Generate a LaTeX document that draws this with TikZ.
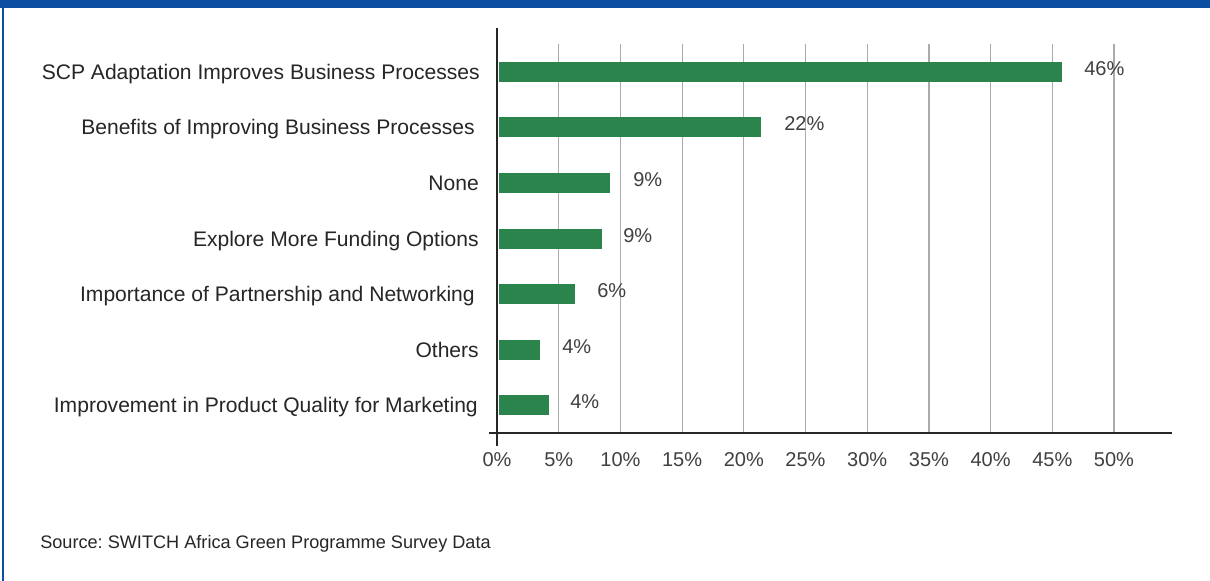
\documentclass[tikz,border=0pt]{standalone}
\usepackage{fontspec}
\setmainfont{Liberation Sans}
\usepackage{xcolor}
\definecolor{bandblue}{HTML}{0B4EA2}
\definecolor{bargreen}{HTML}{2B844C}
\definecolor{gridgrey}{HTML}{ABABAB}
\definecolor{labelgrey}{HTML}{262626}
\definecolor{valgrey}{HTML}{404040}
\frenchspacing

\begin{document}
\begin{tikzpicture}[x=0.75pt,y=-0.75pt,
    catlabel/.style = {anchor=base east, inner sep=0pt, text=labelgrey,
      font=\fontsize{15.8}{18}\selectfont},
    vallabel/.style = {anchor=base west, inner sep=0pt, text=valgrey,
      font=\fontsize{15}{18}\selectfont},
    ticklabel/.style = {anchor=base, inner sep=0pt, text=valgrey,
      font=\fontsize{15}{18}\selectfont},
    gridline/.style = {draw=gridgrey, line width=0.9pt},
    axisline/.style = {draw=labelgrey, line width=1.8pt},
    barbox/.style = {fill=bargreen}]
  \useasboundingbox (0,0) rectangle (1210,581);
  \fill[white] (0,0) rectangle (1210,581);

  % frame
  \fill[bandblue] (0,0) rectangle (1210,8);
  \draw[bandblue, line width=1.2pt] (3,8) -- (3,581);

  % grid and tick labels
  \foreach \i in {1,...,10}
    \draw[gridline] ({497+61.7*\i},44) -- ({497+61.7*\i},433);
  \foreach \i in {0,...,10}{
    \pgfmathtruncatemacro{\pc}{5*\i}
    \node[ticklabel] (tick\i) at ({497+61.7*\i},466) {\pc\%};
  }

  % bars
  \foreach \y/\e/\lx/\lab/\vx/\val [count=\n] in {
      72/1062/480/SCP Adaptation Improves Business Processes/1084/46,
      127/761/475/Benefits of Improving Business Processes/784/22,
      183/610/479/None/633/9,
      239/602/479/Explore More Funding Options/623/9,
      294/575/475/Importance of Partnership and Networking/597/6,
      350/540/479/Others/562/4,
      405/549/478/Improvement in Product Quality for Marketing/570/4}{
    \fill[barbox] (499,\y-10) rectangle (\e,\y+10);
    \node[catlabel] (cat\n) at (\lx,\y+7.5) {\lab};
    \node[vallabel] (val\n) at (\vx,\y+3.5) {\val\%};
  }

  % axes
  \coordinate (ytop) at (497,28);
  \coordinate (ybot) at (497,446);
  \coordinate (xleft) at (489,433);
  \coordinate (xright) at (1172,433);
  \draw[axisline] (ytop) -- (ybot);
  \draw[axisline] (xleft) -- (xright);

  \node[anchor=base west, inner sep=0pt, text=labelgrey,
    font=\fontsize{13.6}{16}\selectfont] (source) at (40,548)
    {Source: SWITCH Africa Green Programme Survey Data};
\end{tikzpicture}
\end{document}
